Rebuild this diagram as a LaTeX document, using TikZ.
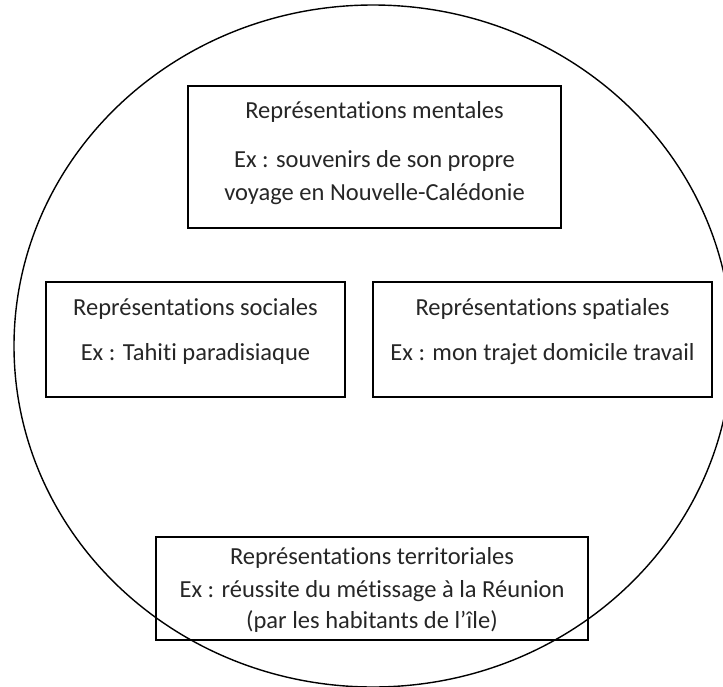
\documentclass[tikz,border=0pt]{standalone}
\usepackage{fontspec}
\setmainfont[Ligatures={NoCommon}]{Carlito}
\usetikzlibrary{shapes.geometric}
\begin{document}
\begin{tikzpicture}[x=1pt,y=-1pt,
  boxstyle/.style={draw=black, line width=1.3pt, rectangle, inner sep=0pt},
  txt/.style={anchor=base, inner sep=0pt, font=\fontsize{24.5}{28}\selectfont, text=black!85}]
\useasboundingbox (0,0) rectangle (723,686);
\begin{scope}
\clip (0,0) rectangle (723,686);
\node[draw=black, line width=1.4pt, ellipse, minimum width=718pt, minimum height=682pt, inner sep=0pt] (circ) at (373,346) {};
\end{scope}
% boxes
\node[boxstyle, minimum width=373pt, minimum height=142pt] (bm) at (374.5,157) {};
\node[boxstyle, minimum width=299pt, minimum height=115pt] (bso) at (195.5,339.5) {};
\node[boxstyle, minimum width=339pt, minimum height=115pt] (bsp) at (542.5,339.5) {};
\node[boxstyle, minimum width=432pt, minimum height=103pt] (bt) at (372,588.5) {};
% texts
\node[txt] (m1) at (374.5,118) {Représentations mentales};
\node[txt] (m2) at (374.5,167) {Ex : souvenirs de son propre};
\node[txt] (m3) at (374.5,200) {voyage en Nouvelle-Calédonie};
\node[txt] (so1) at (195.5,315) {Représentations sociales};
\node[txt] (so2) at (195.5,360) {Ex : Tahiti paradisiaque};
\node[txt] (sp1) at (542.5,315) {Représentations spatiales};
\node[txt] (sp2) at (542.5,360) {Ex : mon trajet domicile travail};
\node[txt] (t1) at (372,564) {Représentations territoriales};
\node[txt] (t2) at (372,597) {Ex : réussite du métissage à la Réunion};
\node[txt] (t3) at (372,628) {(par les habitants de l’île)};
\end{tikzpicture}
\end{document}
